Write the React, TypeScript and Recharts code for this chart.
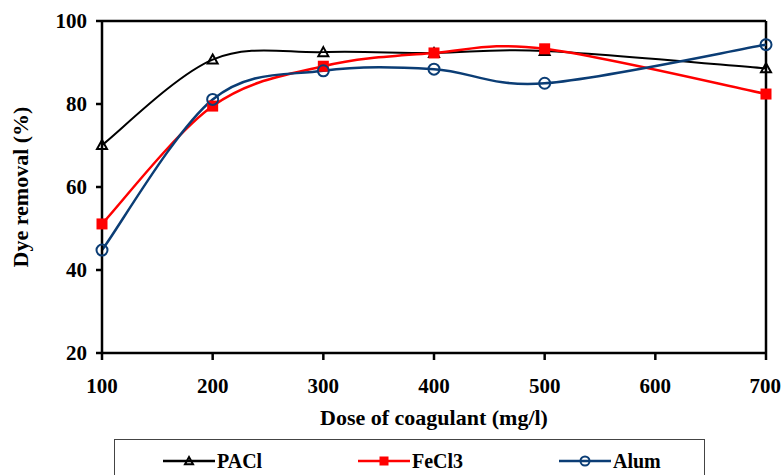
import React from 'react';
import { LineChart, Line, XAxis, YAxis, ReferenceLine, Legend, Label } from 'recharts';

if (typeof document !== 'undefined') document.body.style.margin = '0';

const doses = [100, 200, 300, 400, 500, 700];
const paclValues = [70.1, 90.7, 92.5, 92.3, 92.8, 88.6];
const fecl3Values = [51.1, 79.5, 89.1, 92.3, 93.3, 82.4];
const alumValues = [44.8, 81.1, 88.0, 88.4, 85.0, 94.3];
const xTicks = [100, 200, 300, 400, 500, 600, 700];
const yTicks = [20, 40, 60, 80, 100];

const data = doses.map((d, i) => ({
  dose: d,
  PACl: paclValues[i],
  FeCl3: fecl3Values[i],
  Alum: alumValues[i],
}));

const FONT = 'Liberation Serif, serif';
const BLUE = '#0B3D75';
const RED = '#FF0000';

// excel style smoothing (catmull-rom through the points)
const smoothCurve: any = (context: any) => {
  let xs: number[] = [];
  let ys: number[] = [];
  return {
    areaStart() {},
    areaEnd() {},
    lineStart() { xs = []; ys = []; },
    point(x: number, y: number) { xs.push(+x); ys.push(+y); },
    lineEnd() {
      const n = xs.length;
      if (!n) return;
      context.moveTo(xs[0], ys[0]);
      for (let i = 0; i < n - 1; i++) {
        const a = Math.max(i - 1, 0);
        const d = Math.min(i + 2, n - 1);
        context.bezierCurveTo(
          xs[i] + (xs[i + 1] - xs[a]) / 6, ys[i] + (ys[i + 1] - ys[a]) / 6,
          xs[i + 1] - (xs[d] - xs[i]) / 6, ys[i + 1] - (ys[d] - ys[i]) / 6,
          xs[i + 1], ys[i + 1],
        );
      }
    },
  };
};

const Triangle = ({ cx, cy, size = 5 }: any) => (
  <path
    d={`M${cx},${cy - size} L${cx + size},${cy + size * 0.8} L${cx - size},${cy + size * 0.8} Z`}
    fill="none" stroke="#000" strokeWidth={2}
  />
);
const Square = ({ cx, cy, size = 5.5 }: any) => (
  <rect x={cx - size} y={cy - size} width={size * 2} height={size * 2} fill={RED} />
);
const Ring = ({ cx, cy, r = 5.5 }: any) => (
  <circle cx={cx} cy={cy} r={r} fill="none" stroke={BLUE} strokeWidth={2} />
);

const legendItems = [
  { name: 'PACl', color: '#000', left: 48, marker: (x: number, y: number) => <Triangle cx={x} cy={y} size={4} /> },
  { name: 'FeCl3', color: RED, left: 243, marker: (x: number, y: number) => <Square cx={x} cy={y} size={4.5} /> },
  { name: 'Alum', color: BLUE, left: 444, marker: (x: number, y: number) => <Ring cx={x} cy={y} r={4.5} /> },
];

const renderLegend = () => (
  <div style={{ position: 'relative', width: 591, height: 44, border: '1px solid #444', boxSizing: 'border-box' }}>
    {legendItems.map((it) => (
      <div key={it.name} style={{ position: 'absolute', left: it.left, top: 8, height: 26, display: 'flex', alignItems: 'center' }}>
        <svg width={53} height={26}>
          <line x1={0} y1={13} x2={52} y2={13} stroke={it.color} strokeWidth={2.5} />
          {it.marker(26, 13)}
        </svg>
        <span style={{ fontFamily: FONT, fontWeight: 'bold', fontSize: 20, marginLeft: 1 }}>{it.name}</span>
      </div>
    ))}
  </div>
);

const tickStyle = { fontFamily: FONT, fontWeight: 'bold', fontSize: 21, fill: '#000' };

export default function App() {
  return (
    <div style={{ width: 781, height: 475, overflow: 'hidden', background: '#fff' }}>
      <LineChart width={781} height={475} data={data} margin={{ top: 21, right: 15, left: 0, bottom: 50 }}>
        <XAxis
          dataKey="dose" type="number" domain={[100, 700]} ticks={xTicks}
          axisLine={{ stroke: '#000', strokeWidth: 2.5 }} tickLine={{ stroke: '#000', strokeWidth: 2.5 }}
          tickSize={7} tickMargin={18} tick={tickStyle} height={72}
        >
          <Label
            content={() => (
              <text x={434} y={425} textAnchor="middle" fontFamily={FONT} fontWeight="bold" fontSize={22} fill="#000">
                Dose of coagulant (mg/l)
              </text>
            )}
          />
        </XAxis>
        <YAxis
          type="number" domain={[20, 100]} ticks={yTicks} width={102}
          axisLine={{ stroke: '#000', strokeWidth: 2.5 }} tickLine={{ stroke: '#000', strokeWidth: 2.5 }}
          tickSize={6} tickMargin={9} tick={tickStyle}
        >
          <Label
            content={() => (
              <text x={20} y={187} transform="rotate(-90, 20, 187)" textAnchor="middle" dominantBaseline="central"
                fontFamily={FONT} fontWeight="bold" fontSize={22} fill="#000">
                Dye removal (%)
              </text>
            )}
          />
        </YAxis>
        <ReferenceLine y={100} stroke="#000" strokeWidth={2.5} />
        <ReferenceLine x={700} stroke="#000" strokeWidth={2.5} />
        <Legend
          verticalAlign="middle" align="center" layout="horizontal"
          wrapperStyle={{ position: 'absolute', left: 114, top: 439, width: 591 }}
          content={renderLegend}
        />
        <Line type={smoothCurve} dataKey="PACl" stroke="#000" strokeWidth={2} isAnimationActive={false}
          dot={(p: any) => <Triangle key={p.index} cx={p.cx} cy={p.cy} />} />
        <Line type={smoothCurve} dataKey="FeCl3" stroke={RED} strokeWidth={2.5} isAnimationActive={false}
          dot={(p: any) => <Square key={p.index} cx={p.cx} cy={p.cy} />} />
        <Line type={smoothCurve} dataKey="Alum" stroke={BLUE} strokeWidth={2.5} isAnimationActive={false}
          dot={(p: any) => <Ring key={p.index} cx={p.cx} cy={p.cy} />} />
      </LineChart>
    </div>
  );
}
